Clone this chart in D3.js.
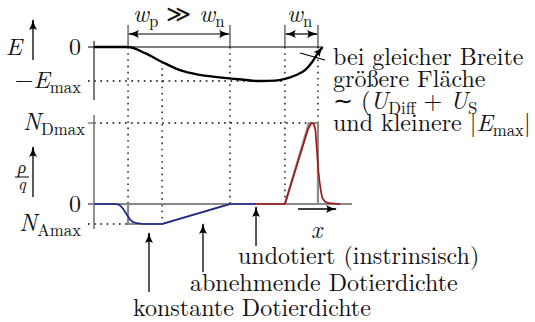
<!DOCTYPE html>
<html>
<head>
  <title>pn-Übergang: Feldstärke und Raumladung</title>
  <script src="https://d3js.org/d3.v7.min.js"></script>
  <style>
    body { margin: 0; background: #fff; }
  </style>
</head>
<body>
  <svg width="535" height="322"></svg>

  <script>
    // Positions of the region borders (arbitrary x units)
    const borders = [1.32, 2.64, 5.27, 7.40, 8.68];
    const intrinsicEnd = 6.28;

    // Field strength E(x), normalised to E_max
    const eField = [
      [0, 0], [1.32, 0], [1.98, -0.18], [2.64, -0.44], [3.33, -0.68], [4.11, -0.82],
      [5.27, -0.92], [6.43, -1.0], [7.02, -0.99], [7.40, -0.94], [7.79, -0.84],
      [8.18, -0.68], [8.45, -0.45], [8.68, -0.18], [8.86, 0]
    ];

    // Charge density rho/q, normalised to N_Amax
    const rhoBlue = [
      [0, 0], [0.74, 0], [0.93, -0.02], [1.05, -0.12], [1.16, -0.3], [1.28, -0.55],
      [1.40, -0.78], [1.51, -0.9], [1.67, -0.96], [1.90, -1.0], [2.64, -1.0],
      [5.27, 0], [6.28, 0]
    ];
    const rhoRed = [
      [6.28, 0], [7.40, 0], [8.30, 3.75], [8.38, 3.95], [8.45, 4.05], [8.52, 4.0],
      [8.58, 3.7], [8.63, 2.85], [8.70, 1.6], [8.75, 1.05], [8.80, 0.6], [8.85, 0.3],
      [8.95, 0.12], [9.10, 0.04], [9.55, 0]
    ];
    const rhoIdeal = [
      [1.32, 0], [1.32, -1], [2.64, -1], [5.27, 0], [7.40, 0],
      [8.33, 4.05], [8.68, 4.05], [8.68, 0]
    ];
    const NA = 1, ND = 4.05;

    const svg = d3.select("svg");
    const serif = '"Latin Modern Roman", "Liberation Serif", serif';

    const x = d3.scaleLinear().domain([0, 10]).range([94, 352]);
    const yE = d3.scaleLinear().domain([-1, 0]).range([81, 47]);
    const yR = d3.scaleLinear().domain([-NA, ND]).range([224, 123]);

    // arrow head
    const defs = svg.append("defs");
    defs.append("marker")
      .attr("id", "arr")
      .attr("markerUnits", "userSpaceOnUse")
      .attr("markerWidth", 12).attr("markerHeight", 10)
      .attr("refX", 10).attr("refY", 5)
      .attr("orient", "auto-start-reverse")
      .append("path")
      .attr("d", "M0,1 Q5,4 11,5 Q5,6 0,9 Q3,5 0,1 Z")
      .attr("fill", "#000");

    const line = (x1, y1, x2, y2, color, w, dash) =>
      svg.append("line")
        .attr("x1", x1).attr("y1", y1).attr("x2", x2).attr("y2", y2)
        .attr("stroke", color).attr("stroke-width", w)
        .attr("stroke-dasharray", dash || null);

    // dotted guide lines
    const dots = "1.6,4.6";
    line(x(borders[0]), yE(0), x(borders[0]), yR(0), "#000", 1.3, dots);
    line(x(borders[1]), yE(-0.44), x(borders[1]), yR(-NA), "#000", 1.3, dots);
    line(x(borders[2]), yE(0), x(borders[2]), yR(0), "#000", 1.3, dots);
    line(x(borders[3]), yE(0), x(borders[3]), yR(0), "#000", 1.3, dots);
    line(x(borders[4]), yE(0), x(borders[4]), yR(ND), "#000", 1.3, dots);
    line(88, yE(-1), x(borders[3]), yE(-1), "#000", 1.3, dots);
    line(94, yR(ND), x(borders[4]), yR(ND), "#000", 1.3, dots);
    line(88, yR(-NA), x(borders[0]), yR(-NA), "#000", 1.3, dots);

    // top panel axes
    line(94, 41, 94, 100, "#444", 1.4);
    line(88, yE(0), 322, yE(0), "#000", 1.2);

    // E curve
    svg.append("path")
      .datum(eField)
      .attr("fill", "none")
      .attr("stroke", "#000")
      .attr("stroke-width", 2.3)
      .attr("marker-end", "url(#arr)")
      .attr("d", d3.line().x(d => x(d[0])).y(d => yE(d[1])).curve(d3.curveMonotoneX));

    // pointer line from the note to the curve
    line(300, 53, 325, 60, "#000", 1.1);

    // width dimensions
    [[borders[0], borders[2]], [borders[3], borders[4]]].forEach(([a, b]) => {
      line(x(a), 25, x(a), yE(0), "#444", 1.2);
      line(x(b), 25, x(b), yE(0), "#444", 1.2);
      line(x(a) + 1, 34, x(b) - 1, 34, "#000", 1.2)
        .attr("marker-start", "url(#arr)")
        .attr("marker-end", "url(#arr)");
    });

    // bottom panel axes
    line(94, 115, 94, 229, "#777", 1.6);
    line(88, yR(0), 352, yR(0), "#888", 1.8);
    line(88, yR(ND), 94, yR(ND), "#777", 1.4);

    const rhoLine = d3.line().x(d => x(d[0])).y(d => yR(d[1]));
    svg.append("path").datum(rhoIdeal)
      .attr("fill", "none").attr("stroke", "#8c8c8c").attr("stroke-width", 2.2)
      .attr("d", rhoLine);
    svg.append("path").datum(rhoBlue)
      .attr("fill", "none").attr("stroke", "#1a2590").attr("stroke-width", 1.7)
      .attr("d", rhoLine);
    svg.append("path").datum(rhoRed)
      .attr("fill", "none").attr("stroke", "#a01818").attr("stroke-width", 1.7)
      .attr("d", rhoLine);

    // quantity arrows
    line(33, 60, 33, 20, "#000", 1.3).attr("marker-end", "url(#arr)");
    line(33, 197, 33, 147, "#000", 1.3).attr("marker-end", "url(#arr)");
    line(298, 209, 336, 209, "#000", 1.3).attr("marker-end", "url(#arr)");

    // pointer arrows to the regions
    line(149, 292, 149, 233, "#000", 1.3).attr("marker-end", "url(#arr)");
    line(203, 272, 203, 224, "#000", 1.3).attr("marker-end", "url(#arr)");
    line(x(intrinsicEnd), 246, x(intrinsicEnd), 207, "#000", 1.3).attr("marker-end", "url(#arr)");

    // text helper: parts are [text, style] with style "i" italic, "s" subscript
    function label(px, py, parts, opts = {}) {
      const size = opts.size || 24;
      const t = svg.append("text")
        .attr("x", px).attr("y", py)
        .style("font-family", serif)
        .style("font-size", size + "px")
        .attr("fill", "#111")
        .attr("text-anchor", opts.anchor || "start");
      let sub = false;
      parts.forEach(([s, st]) => {
        const ts = t.append("tspan").text(s);
        if (st && st.includes("i")) ts.style("font-style", "italic");
        if (st && st.includes("s")) {
          ts.style("font-size", (size * 0.7) + "px");
          if (!sub) ts.attr("dy", 4.5);
          sub = true;
        } else if (sub) {
          ts.attr("dy", -4.5);
          sub = false;
        }
      });
      return t;
    }

    label(22, 55, [["E", "i"]], { anchor: "end" });
    label(81, 55, [["0"]], { anchor: "end" });
    label(81, 88, [["\u2212"], ["E", "i"], ["max", "s"]], { anchor: "end" });
    label(85, 130, [["N", "i"], ["Dmax", "s"]], { anchor: "end" });
    label(81, 212, [["0"]], { anchor: "end" });
    label(81, 231, [["N", "i"], ["Amax", "s"]], { anchor: "end" });

    // rho / q
    label(22, 173, [["\u03c1", "i"]], { anchor: "middle", size: 17 });
    line(15, 177, 29, 177, "#000", 1);
    label(22, 190, [["q", "i"]], { anchor: "middle", size: 17 });

    label(133, 22, [["w", "i"], ["p", "s"], [" \u226b "], ["w", "i"], ["n", "s"]]);
    label(287, 22, [["w", "i"], ["n", "s"]]);
    label(311, 238, [["x", "i"]]);

    label(333, 65, [["bei gleicher Breite"]]);
    label(333, 87, [["größere Fläche"]]);
    label(333, 109, [["\u223c ("], ["U", "i"], ["Diff", "s"], [" + "], ["U", "i"], ["S", "s"]]);
    label(333, 131, [["und kleinere |"], ["E", "i"], ["max", "s"], ["|"]]);

    label(238, 264, [["undotiert (instrinsisch)"]]);
    label(190, 291, [["abnehmende Dotierdichte"]]);
    label(133, 316, [["konstante Dotierdichte"]]);
  </script>
</body>
</html>
